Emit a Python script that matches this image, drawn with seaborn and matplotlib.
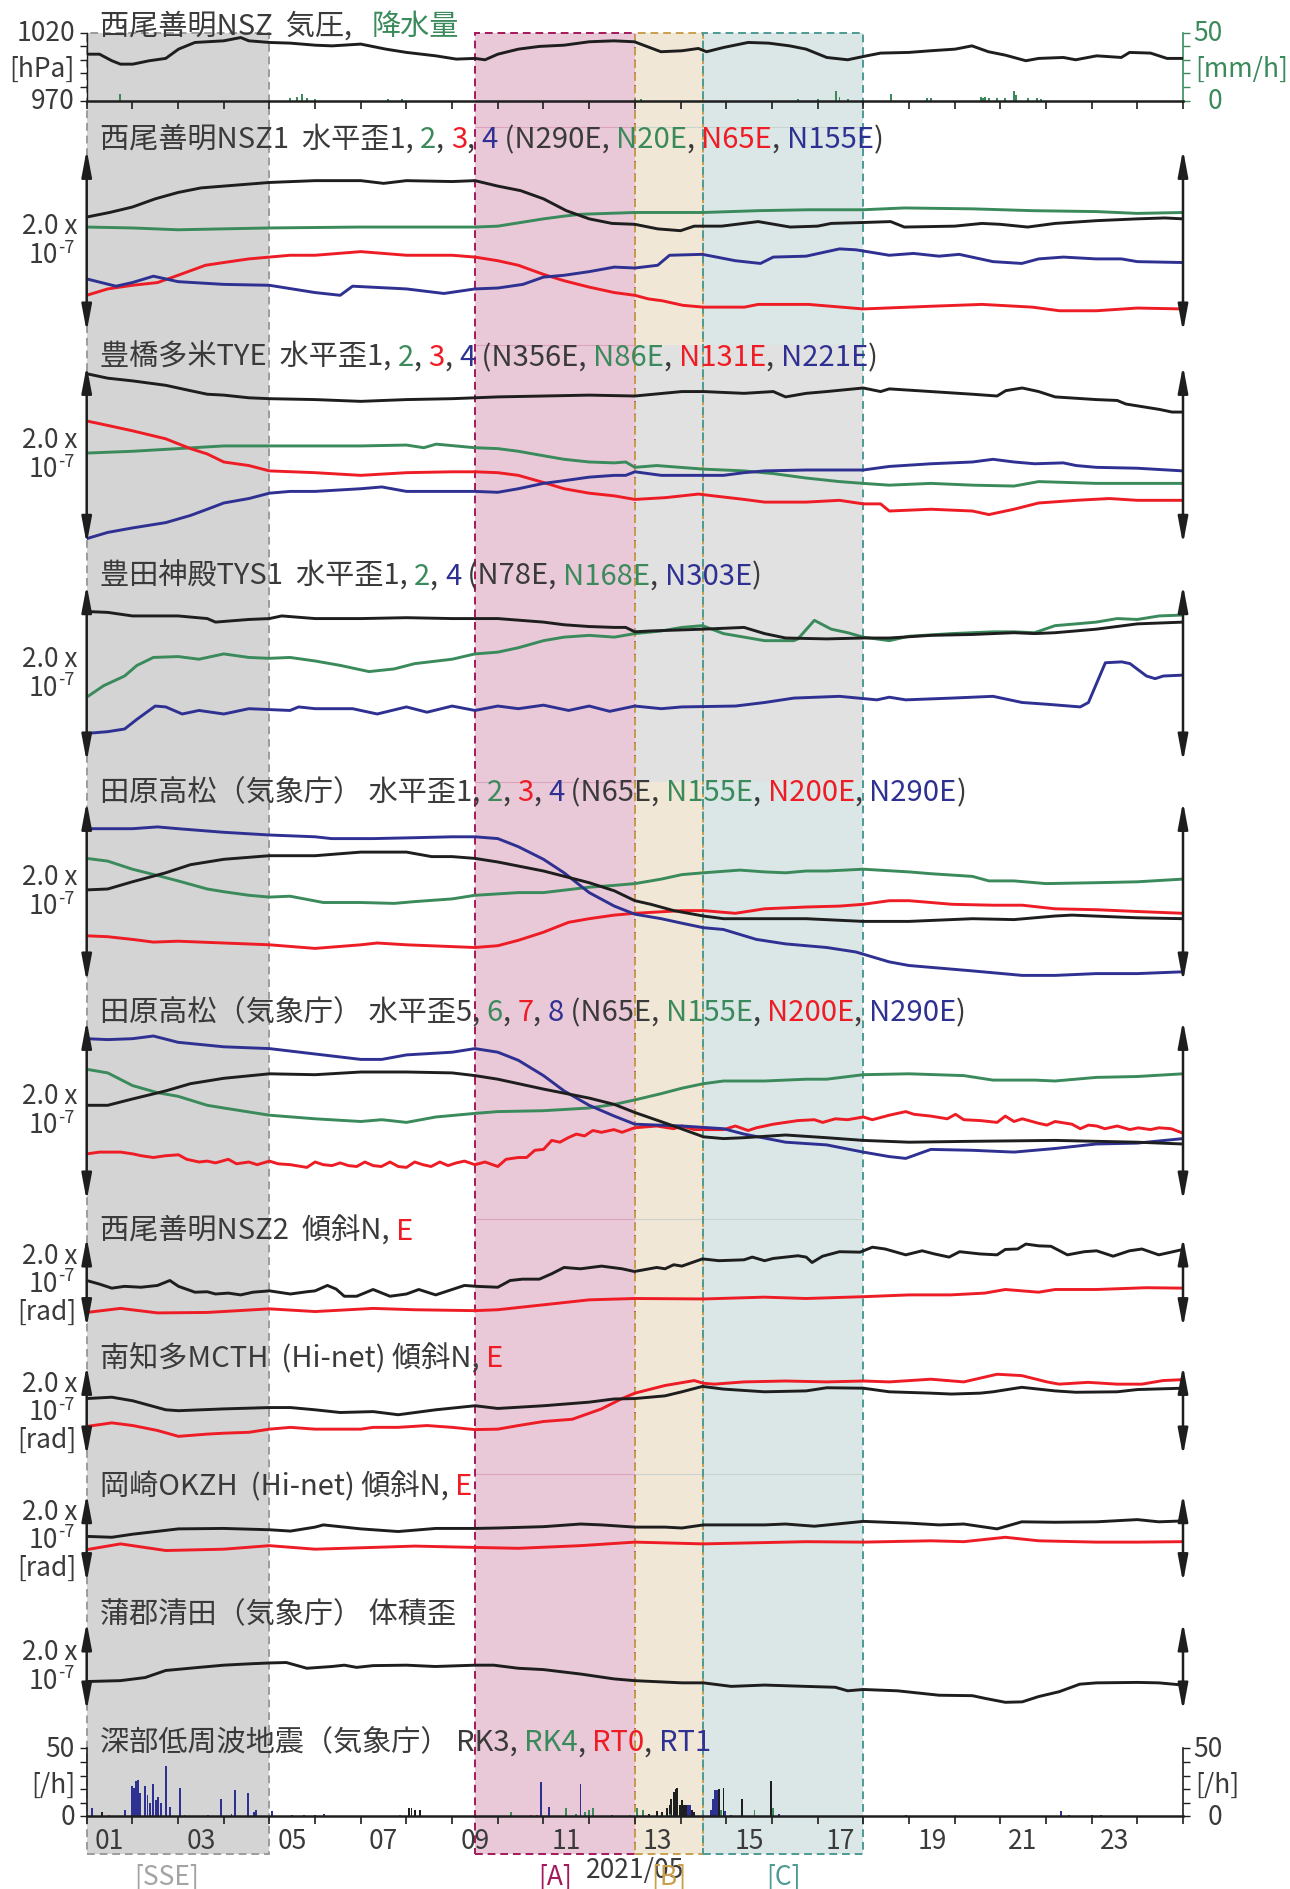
import matplotlib
matplotlib.use("Agg")
import matplotlib.pyplot as plt
import matplotlib.transforms as mtransforms
from matplotlib.patches import Rectangle
from matplotlib.lines import Line2D
import seaborn as sns

sns.set_theme(style="white")
plt.rcParams["font.family"] = ["Noto Sans CJK JP", "DejaVu Sans"]

# ---------------------------------------------------------------- colours
K = "#1e1e1e"
G = "#3a8a5c"
R = "#ee1c25"
B = "#2e3192"
TXT = "#3a3a3a"

# ---------------------------------------------------------------- data
# time axis: days since 2021-05-01 00:00
# Nishio-Zenmyo NSZ air pressure [hPa]
pres_t = [0, 0.28, 0.55, 0.74, 1.01, 1.37, 1.73, 2.01, 2.37, 3.0, 3.37, 3.55, 4.0, 4.46, 5.0,
          5.37, 6.0, 6.55, 7.0, 7.64, 8.09, 8.5, 8.72, 9.0, 9.45, 9.91, 10.45, 11.0, 11.54, 11.99,
          12.57, 13.03, 13.39, 13.57, 13.94, 14.48, 14.93, 15.39, 15.75, 16.2, 16.66, 17.0, 17.38,
          18.0, 18.47, 19.01, 19.38, 19.74, 20.11, 20.56, 20.84, 21.38, 21.65, 22.11, 22.65,
          22.83, 23.29, 23.65, 24.0]
pres_v = [1004.1, 1004.1, 999.3, 996.8, 996.8, 999.3, 1001.0, 1007.8, 1012.7, 1013.9, 1016.3,
          1013.9, 1012.7, 1012.2, 1010.7, 1010.2, 1011.5, 1007.8, 1005.4, 1002.9, 1000.5, 1001.0,
          1000.0, 1004.1, 1007.8, 1009.8, 1010.7, 1013.2, 1013.9, 1013.2,
          1005.9, 1006.6, 1008.3, 1005.9, 1009.0, 1012.7, 1012.2, 1010.2, 1007.8, 1001.7, 1000.0,
          1002.4, 1004.9, 1005.4, 1006.6, 1007.8, 1010.2, 1005.9, 1003.4, 999.3, 1001.0, 1001.7,
          1000.0, 1002.9, 1001.7, 1005.4, 1004.9, 1001.0, 1001.0]
# hourly precipitation [mm/h]
rain_t = [0.72, 4.45, 4.6, 4.72, 4.82, 5.0, 6.6, 6.9, 12.0, 12.13, 15.57, 16.0, 16.4, 16.48,
          16.66, 17.6, 18.4, 18.48, 19.57, 19.62, 19.66, 19.75, 19.93, 20.1, 20.3, 20.35, 20.6,
          20.8, 20.9]
rain_v = [5, 2, 3, 5, 2, 1, 1, 1, 1, 1, 1, 1, 7, 3, 1, 5, 2, 2, 3, 2, 3, 2, 2, 2, 7, 4, 2, 2, 1]

# NSZ1 horizontal strain components 1-4 [x1e-7]
nsz1_t1 = [0, 0.5, 1, 1.5, 2, 2.5, 3, 3.5, 4, 5, 6, 6.5, 7, 8, 8.5, 9, 9.5, 10, 10.5, 11, 11.5,
           12, 12.5, 13, 13.3, 13.9, 14.7, 15.4, 16, 16.3, 17, 17.6, 17.9, 19, 19.6, 20, 20.6,
           21.2, 22.1, 23, 23.6, 24]
nsz1_v1 = [1.26, 1.31, 1.37, 1.46, 1.53, 1.58, 1.60, 1.62, 1.64, 1.66, 1.66, 1.63, 1.66, 1.65,
           1.66, 1.60, 1.55, 1.46, 1.33, 1.24, 1.19, 1.18, 1.13, 1.11, 1.16, 1.16, 1.21, 1.15,
           1.16, 1.19, 1.20, 1.21, 1.15, 1.16, 1.19, 1.18, 1.15, 1.19, 1.22, 1.24, 1.25, 1.24]
nsz1_t2 = [0, 1, 2, 3, 4, 6, 8.5, 9, 9.5, 10, 10.45, 10.8, 12, 13.5, 14.7, 15.8, 17, 17.9, 19.4,
           20.7, 22.1, 23, 24]
nsz1_v2 = [1.15, 1.14, 1.12, 1.13, 1.14, 1.15, 1.15, 1.16, 1.20, 1.24, 1.27, 1.29, 1.31, 1.31,
           1.33, 1.34, 1.34, 1.36, 1.35, 1.33, 1.32, 1.30, 1.31]
nsz1_t3 = [0, 0.46, 1, 1.55, 2, 2.6, 3, 3.55, 4, 4.45, 5, 6, 7, 8, 8.5, 9, 9.45, 10, 10.45, 11,
           11.55, 12, 12.3, 12.6, 13.05, 13.5, 14.4, 14.7, 15.8, 17, 18.5, 19.6, 20.7, 21.3,
           22.1, 23, 24]
nsz1_v3 = [0.40, 0.47, 0.51, 0.54, 0.62, 0.73, 0.76, 0.80, 0.82, 0.84, 0.84, 0.88, 0.84, 0.84,
           0.82, 0.78, 0.73, 0.63, 0.56, 0.49, 0.43, 0.40, 0.36, 0.34, 0.29, 0.27, 0.27, 0.30,
           0.30, 0.25, 0.28, 0.30, 0.27, 0.23, 0.23, 0.26, 0.25]
nsz1_t4 = [0, 0.64, 1, 1.46, 1.73, 2, 3, 4, 5, 5.55, 5.82, 7, 7.82, 8.5, 9, 9.55, 10, 10.45, 11,
           11.55, 12, 12.5, 12.76, 13.48, 14.2, 14.75, 15.03, 15.75, 16.48, 16.84, 17.57, 18.1,
           18.66, 19.1, 19.84, 20.47, 20.84, 21.38, 22.1, 22.65, 23, 24]
nsz1_v4 = [0.58, 0.50, 0.54, 0.61, 0.58, 0.55, 0.52, 0.51, 0.43, 0.40, 0.50, 0.47, 0.42, 0.47,
           0.48, 0.52, 0.60, 0.62, 0.66, 0.71, 0.70, 0.73, 0.84, 0.85, 0.78, 0.75, 0.82, 0.83,
           0.91, 0.90, 0.84, 0.86, 0.83, 0.85, 0.77, 0.75, 0.80, 0.82, 0.80, 0.80, 0.77, 0.76]

# TYE horizontal strain components 1-4
tye_t1 = [0, 0.46, 1, 1.73, 2.27, 2.64, 3, 3.55, 4, 5, 6, 7, 8, 8.5, 9, 10, 11, 12, 13.03, 13.5,
          14.39, 15.03, 15.3, 15.75, 16.2, 17, 17.38, 17.57, 18.48, 19.39, 19.93, 20.12, 20.48,
          20.84, 21.2, 22.1, 22.56, 22.75, 23.48, 23.76, 24]
tye_v1 = [1.91, 1.86, 1.83, 1.78, 1.72, 1.68, 1.67, 1.64, 1.63, 1.62, 1.60, 1.62, 1.63, 1.64,
          1.65, 1.66, 1.67, 1.66, 1.71, 1.71, 1.69, 1.71, 1.65, 1.69, 1.71, 1.75, 1.71, 1.74,
          1.71, 1.68, 1.66, 1.72, 1.75, 1.71, 1.65, 1.62, 1.61, 1.57, 1.51, 1.48, 1.48]
tye_t2 = [0, 1, 2, 3, 4, 5, 6, 7, 7.38, 7.65, 8.5, 9, 9.45, 10, 10.45, 11, 11.55, 11.8, 12,
          12.48, 13.5, 14.39, 15.03, 15.75, 16.48, 17, 17.57, 18.48, 19.39, 20.3, 20.84, 22.1,
          23, 24]
tye_v2 = [1.02, 1.04, 1.07, 1.10, 1.10, 1.10, 1.10, 1.11, 1.08, 1.12, 1.08, 1.07, 1.04, 0.99,
          0.95, 0.92, 0.91, 0.92, 0.86, 0.88, 0.84, 0.82, 0.79, 0.74, 0.70, 0.68, 0.66, 0.68,
          0.66, 0.65, 0.70, 0.68, 0.68, 0.68]
tye_t3 = [0, 0.46, 1, 1.73, 2.27, 2.64, 3, 3.55, 4, 5, 6, 7, 8, 8.5, 9, 9.45, 10, 10.45, 11,
          11.55, 12, 12.67, 13.39, 14.39, 14.84, 15.75, 16.48, 17, 17.38, 17.57, 18.48, 19.39,
          19.75, 20.3, 20.84, 21.66, 22.39, 23, 24]
tye_v3 = [1.38, 1.33, 1.27, 1.18, 1.07, 1.01, 0.92, 0.88, 0.82, 0.80, 0.77, 0.80, 0.81, 0.81,
          0.80, 0.77, 0.69, 0.62, 0.57, 0.54, 0.50, 0.52, 0.56, 0.50, 0.47, 0.47, 0.49, 0.45,
          0.45, 0.37, 0.39, 0.37, 0.33, 0.39, 0.46, 0.49, 0.51, 0.49, 0.49]
tye_t4 = [0, 0.46, 1, 1.73, 2.27, 2.64, 3, 3.55, 4, 4.45, 5, 6, 6.46, 7, 8, 8.5, 9, 9.45, 10,
          10.45, 11, 11.55, 11.8, 12, 12.58, 13.03, 13.94, 14.39, 14.84, 15.75, 17, 17.57, 18.48,
          19.39, 19.84, 20.3, 20.75, 21.38, 21.66, 22.1, 23, 24]
tye_v4 = [0.06, 0.13, 0.18, 0.24, 0.32, 0.39, 0.46, 0.51, 0.57, 0.59, 0.59, 0.62, 0.64, 0.59,
          0.59, 0.59, 0.58, 0.62, 0.68, 0.71, 0.75, 0.77, 0.77, 0.81, 0.77, 0.77, 0.77, 0.80,
          0.82, 0.83, 0.83, 0.87, 0.90, 0.92, 0.95, 0.92, 0.90, 0.91, 0.88, 0.86, 0.85, 0.82]

# TYS1 horizontal strain components 1, 2, 4
tys_t1 = [0, 0.46, 1, 2, 2.64, 2.82, 3.55, 4, 4.27, 5, 6, 7, 8, 8.5, 9, 10, 10.45, 11, 11.55,
          11.8, 12, 12.35, 13.5, 14.39, 14.84, 15.3, 16.2, 17, 17.57, 18.48, 19.39, 20.3, 20.75,
          21.2, 22.1, 23, 24]
tys_v1 = [1.70, 1.69, 1.65, 1.65, 1.62, 1.58, 1.61, 1.62, 1.65, 1.62, 1.62, 1.63, 1.62, 1.62,
          1.62, 1.58, 1.55, 1.53, 1.52, 1.52, 1.47, 1.48, 1.50, 1.52, 1.45, 1.40, 1.39, 1.40,
          1.40, 1.43, 1.44, 1.46, 1.45, 1.46, 1.50, 1.56, 1.58]
tys_t2 = [0, 0.37, 0.83, 1.1, 1.46, 2, 2.46, 3, 3.55, 4, 4.45, 5, 5.55, 6.18, 6.73, 7.18, 8, 8.5,
          9, 9.45, 10, 10.45, 11, 11.55, 12, 12.58, 13.03, 13.48, 13.94, 14.39, 14.84, 15.48,
          15.57, 15.93, 16.3, 16.66, 17, 17.57, 18, 18.94, 19.84, 20.3, 20.75, 21.2, 21.66,
          22.1, 22.56, 23, 23.48, 24]
tys_v2 = [0.73, 0.86, 0.97, 1.09, 1.18, 1.19, 1.16, 1.22, 1.18, 1.17, 1.18, 1.14, 1.09, 1.02,
          1.05, 1.11, 1.16, 1.22, 1.24, 1.29, 1.37, 1.41, 1.43, 1.41, 1.45, 1.48, 1.52, 1.54,
          1.45, 1.41, 1.37, 1.37, 1.39, 1.60, 1.50, 1.46, 1.41, 1.37, 1.42, 1.45, 1.47, 1.47,
          1.46, 1.54, 1.56, 1.58, 1.62, 1.61, 1.65, 1.66]
tys_t4 = [0, 0.46, 0.83, 1.1, 1.5, 1.73, 2.09, 2.46, 3, 3.55, 4, 4.45, 4.64, 5, 5.82, 6.36, 7,
          7.45, 8, 8.5, 9, 9.45, 10, 10.55, 11, 11.45, 12, 12.58, 13.03, 14.2, 14.84, 15.48,
          16.48, 17.3, 17.57, 17.93, 18.94, 19.84, 20.48, 21.03, 21.75, 21.93, 22.3, 22.66,
          22.84, 23.2, 23.39, 23.57, 24]
tys_v4 = [0.32, 0.34, 0.37, 0.48, 0.63, 0.62, 0.54, 0.58, 0.54, 0.60, 0.59, 0.58, 0.62, 0.60,
          0.60, 0.54, 0.62, 0.56, 0.63, 0.58, 0.63, 0.60, 0.64, 0.58, 0.63, 0.57, 0.63, 0.60,
          0.62, 0.63, 0.67, 0.72, 0.74, 0.70, 0.73, 0.70, 0.72, 0.74, 0.67, 0.65, 0.62, 0.67,
          1.12, 1.13, 1.11, 0.97, 0.94, 0.97, 0.98]

# Tahara-Takamatsu (JMA) horizontal strain components 1-4
tha_t1 = [0, 0.46, 1, 1.73, 2.27, 3, 4, 5, 6, 6.55, 7, 7.55, 8, 8.5, 9, 10, 11, 11.55, 12, 12.35,
          12.85, 13.5, 13.94, 14.84, 15.75, 17, 18, 19.39, 20.3, 21.2, 21.57, 23, 24]
tha_v1 = [1.02, 1.03, 1.11, 1.21, 1.30, 1.36, 1.40, 1.40, 1.44, 1.44, 1.44, 1.39, 1.39, 1.37,
          1.33, 1.23, 1.10, 1.01, 0.90, 0.86, 0.79, 0.73, 0.70, 0.70, 0.70, 0.67, 0.67, 0.70,
          0.69, 0.73, 0.74, 0.71, 0.70]
tha_t2 = [0, 0.46, 1, 1.55, 2, 2.64, 3, 3.55, 4, 4.45, 5.18, 6, 6.73, 7.18, 8, 8.5, 9.45, 10, 11,
          11.55, 12, 12.58, 13.03, 13.5, 14.3, 14.84, 15.3, 15.75, 16.2, 17, 18, 18.48, 19.39,
          19.75, 20.3, 21, 22.1, 23, 24]
tha_v2 = [1.37, 1.34, 1.25, 1.18, 1.12, 1.03, 1.00, 0.96, 0.94, 0.95, 0.88, 0.88, 0.87, 0.89,
          0.92, 0.96, 0.99, 0.99, 1.05, 1.07, 1.09, 1.14, 1.19, 1.21, 1.24, 1.22, 1.21, 1.23,
          1.23, 1.25, 1.22, 1.20, 1.17, 1.12, 1.12, 1.09, 1.10, 1.11, 1.14]
tha_t3 = [0, 0.46, 1, 1.46, 2, 3, 4, 5, 6, 6.36, 7, 8, 8.5, 9, 9.45, 10, 10.55, 11, 11.55, 12,
          13.03, 13.5, 14.2, 14.84, 15.75, 16.48, 17, 17.57, 18, 18.48, 18.94, 19.84, 20.48,
          21.2, 22.1, 23, 24]
tha_v3 = [0.51, 0.50, 0.47, 0.44, 0.45, 0.43, 0.41, 0.37, 0.41, 0.43, 0.41, 0.39, 0.38, 0.40,
          0.46, 0.55, 0.66, 0.70, 0.74, 0.76, 0.79, 0.79, 0.76, 0.81, 0.83, 0.84, 0.86, 0.90,
          0.90, 0.88, 0.86, 0.85, 0.85, 0.81, 0.80, 0.78, 0.76]
tha_t4 = [0, 1, 1.55, 2, 3, 4, 5, 5.36, 6.27, 7.18, 8, 8.5, 9, 9.45, 10, 10.45, 11, 11.55, 12,
          12.58, 13.03, 13.5, 13.94, 14.66, 15.3, 16.2, 16.84, 17.57, 18, 19.39, 20.48, 21.2,
          22.1, 23, 24]
tha_v4 = [1.70, 1.70, 1.72, 1.70, 1.66, 1.63, 1.61, 1.59, 1.59, 1.60, 1.61, 1.61, 1.59, 1.50,
          1.36, 1.21, 0.99, 0.84, 0.75, 0.70, 0.65, 0.60, 0.58, 0.47, 0.42, 0.38, 0.33, 0.22,
          0.18, 0.12, 0.07, 0.07, 0.09, 0.09, 0.11]

# Tahara-Takamatsu (JMA) horizontal strain components 5-8
thb_t5 = [0, 0.46, 1, 1.73, 2.27, 3, 4, 5, 6, 7, 8, 8.5, 9, 10, 11, 11.55, 12, 12.85, 13.5,
          13.94, 14.39, 15.3, 16.2, 17, 18, 19.39, 21.2, 22.1, 23, 24]
thb_v5 = [1.06, 1.06, 1.13, 1.22, 1.30, 1.36, 1.41, 1.40, 1.43, 1.43, 1.42, 1.39, 1.35, 1.24,
          1.14, 1.07, 0.98, 0.83, 0.71, 0.69, 0.70, 0.73, 0.70, 0.67, 0.65, 0.66, 0.67, 0.66,
          0.65, 0.63]
thb_t6 = [0, 0.46, 1, 1.55, 2, 2.64, 3, 4, 5, 6, 6.46, 7, 7.64, 8.5, 9, 10, 11, 11.55, 12, 12.58,
          13.03, 13.5, 13.94, 14.84, 15.75, 16.2, 17, 18, 19.2, 19.84, 20.75, 21.2, 22.1, 23, 24]
thb_v6 = [1.46, 1.42, 1.28, 1.20, 1.16, 1.06, 1.03, 0.95, 0.91, 0.88, 0.90, 0.87, 0.93, 0.97,
          0.99, 1.00, 1.03, 1.07, 1.12, 1.19, 1.25, 1.30, 1.33, 1.33, 1.35, 1.35, 1.40, 1.41,
          1.39, 1.34, 1.34, 1.33, 1.37, 1.38, 1.41]
thb_t7 = [0, 0.28, 0.74, 1.01, 1.19, 1.46, 1.73, 2.01, 2.19, 2.46, 2.64, 2.82, 3.10, 3.28, 3.55,
          3.73, 4.00, 4.19, 4.46, 4.82, 5.00, 5.18, 5.37, 5.55, 5.73, 5.91, 6.09, 6.27, 6.45,
          6.64, 6.82, 7.00, 7.18, 7.36, 7.54, 7.73, 7.91, 8.09, 8.27, 8.50, 8.72, 9.00, 9.18,
          9.45, 9.63, 9.81, 10.0, 10.18, 10.36, 10.54, 10.72, 10.90, 11.08, 11.27, 11.54, 11.72,
          11.99, 12.48, 12.85, 13.03, 13.3, 13.5, 13.94, 14.2, 14.48, 14.66, 15.03, 15.3, 15.57,
          15.93, 16.11, 16.39, 16.66, 17.0, 17.2, 17.57, 17.93, 18.11, 18.48, 18.84, 19.02,
          19.2, 19.57, 19.93, 20.11, 20.3, 20.48, 20.84, 21.02, 21.2, 21.57, 21.75, 21.93,
          22.11, 22.29, 22.56, 22.84, 23.02, 23.29, 23.47, 23.74, 24.0]
thb_v7 = [0.52, 0.54, 0.54, 0.52, 0.50, 0.48, 0.50, 0.51, 0.46, 0.43, 0.44, 0.42, 0.46, 0.41,
          0.43, 0.40, 0.44, 0.41, 0.40, 0.37, 0.43, 0.40, 0.39, 0.42, 0.39, 0.38, 0.43, 0.39,
          0.38, 0.43, 0.38, 0.37, 0.43, 0.40, 0.38, 0.43, 0.39, 0.42, 0.44, 0.40, 0.43, 0.38,
          0.46, 0.48, 0.48, 0.56, 0.57, 0.67, 0.65, 0.70, 0.74, 0.72, 0.78, 0.76, 0.79, 0.76,
          0.81, 0.83, 0.80, 0.83, 0.79, 0.79, 0.79, 0.83, 0.78, 0.81, 0.85, 0.87, 0.89, 0.90,
          0.87, 0.91, 0.90, 0.93, 0.90, 0.95, 0.99, 0.96, 0.94, 0.91, 0.96, 0.90, 0.89, 0.87,
          0.94, 0.88, 0.91, 0.86, 0.84, 0.88, 0.85, 0.80, 0.84, 0.83, 0.80, 0.83, 0.79, 0.81,
          0.79, 0.81, 0.80, 0.75]
thb_t8 = [0, 0.46, 1, 1.46, 2, 3, 4, 5, 6, 6.46, 7, 8, 8.5, 9, 9.45, 10, 10.45, 11, 11.55, 12,
          13.03, 13.94, 14.39, 15.3, 16.2, 17, 17.57, 17.93, 18.48, 19.39, 20.3, 21.2, 22.1, 23, 24]
thb_v8 = [1.80, 1.79, 1.80, 1.83, 1.76, 1.71, 1.69, 1.63, 1.57, 1.57, 1.62, 1.65, 1.69, 1.65,
          1.56, 1.39, 1.22, 1.06, 0.94, 0.85, 0.83, 0.80, 0.74, 0.65, 0.62, 0.54, 0.49, 0.47,
          0.57, 0.56, 0.54, 0.58, 0.63, 0.64, 0.69]

# NSZ2 tilt N, E [x1e-7 rad]
nsz2_tn = [0, 0.28, 0.55, 0.83, 1.19, 1.55, 1.82, 2.01, 2.37, 2.64, 2.82, 3.10, 3.37, 3.64, 4.00,
           4.46, 4.82, 5.00, 5.27, 5.46, 5.64, 5.91, 6.27, 6.64, 7.00, 7.27, 7.64, 7.91, 8.27,
           8.54, 9.00, 9.27, 9.54, 9.91, 10.18, 10.45, 10.81, 11.27, 11.72, 11.99, 12.48, 12.66,
           12.85, 13.03, 13.48, 13.84, 14.39, 14.57, 14.84, 15.03, 15.3, 15.57, 15.75, 15.88,
           16.11, 16.48, 16.93, 17.2, 17.48, 17.93, 18.29, 18.56, 18.88, 19.11, 19.56, 19.93,
           20.11, 20.38, 20.56, 20.84, 21.11, 21.47, 21.84, 22.11, 22.47, 22.83, 23.1, 23.47,
           23.74, 24.0]
nsz2_vn = [1.04, 0.96, 0.87, 0.91, 0.89, 0.93, 1.04, 0.91, 0.78, 0.79, 0.74, 0.76, 0.72, 0.78,
           0.81, 0.74, 0.79, 0.81, 0.93, 0.85, 0.69, 0.69, 0.84, 0.69, 0.74, 0.84, 0.72, 0.81,
           0.93, 0.91, 0.89, 1.04, 1.07, 1.07, 1.19, 1.33, 1.30, 1.36, 1.30, 1.24, 1.33, 1.30,
           1.39, 1.36, 1.52, 1.48, 1.50, 1.56, 1.48, 1.53, 1.56, 1.59, 1.56, 1.44, 1.58, 1.68,
           1.67, 1.78, 1.74, 1.61, 1.70, 1.63, 1.56, 1.68, 1.63, 1.61, 1.73, 1.74, 1.85, 1.81,
           1.80, 1.61, 1.68, 1.70, 1.58, 1.70, 1.74, 1.61, 1.67, 1.73]
nsz2_te = [0, 0.74, 1.55, 2.64, 4.0, 5.0, 6.27, 7.18, 8.5, 9.0, 10.0, 11.0, 12.0, 13.5, 14.84,
           15.75, 17.0, 18.0, 18.91, 19.66, 20.11, 20.84, 21.2, 22.11, 23.2, 24.0]
nsz2_ve = [0.33, 0.42, 0.32, 0.33, 0.41, 0.35, 0.42, 0.39, 0.37, 0.39, 0.50, 0.61, 0.64, 0.63,
           0.67, 0.64, 0.68, 0.72, 0.72, 0.76, 0.84, 0.78, 0.84, 0.84, 0.88, 0.87]

# MCTH (Hi-net) tilt N, E
mcth_tn = [0, 0.55, 1.01, 1.73, 2.01, 3.0, 4.0, 4.46, 5.0, 5.55, 6.27, 6.82, 7.64, 8.5, 9.0,
           10.0, 11.0, 11.54, 12.0, 12.66, 13.03, 13.48, 13.94, 14.84, 15.75, 16.2, 17.0, 17.57,
           18.48, 18.93, 19.56, 19.84, 20.47, 21.2, 21.65, 22.56, 23.0, 24.0]
mcth_vn = [1.27, 1.30, 1.22, 1.02, 1.00, 1.04, 1.07, 1.07, 1.02, 0.96, 0.98, 0.91, 1.02, 1.11,
           1.05, 1.11, 1.19, 1.26, 1.27, 1.33, 1.42, 1.54, 1.48, 1.42, 1.44, 1.51, 1.50, 1.42,
           1.39, 1.37, 1.39, 1.42, 1.52, 1.44, 1.41, 1.42, 1.47, 1.50]
mcth_te = [0, 0.55, 1.01, 1.55, 2.01, 2.64, 3.0, 3.55, 4.0, 4.46, 5.0, 6.0, 6.27, 6.82, 7.45,
           8.0, 8.5, 9.0, 9.45, 10.0, 10.63, 11.27, 11.72, 12.0, 12.66, 13.3, 13.5, 13.74, 14.39,
           15.3, 16.2, 17.0, 17.57, 18.48, 19.2, 19.93, 20.47, 21.02, 21.29, 21.92, 22.56, 23.1,
           23.56, 24.0]
mcth_ve = [0.65, 0.73, 0.67, 0.56, 0.43, 0.48, 0.50, 0.52, 0.59, 0.63, 0.59, 0.59, 0.63, 0.63,
           0.67, 0.63, 0.58, 0.59, 0.67, 0.76, 0.81, 1.04, 1.27, 1.39, 1.56, 1.67, 1.61, 1.59,
           1.64, 1.66, 1.64, 1.66, 1.64, 1.70, 1.64, 1.81, 1.78, 1.64, 1.59, 1.63, 1.59, 1.59,
           1.67, 1.69]

# OKZH (Hi-net) tilt N, E
okzh_tn = [0, 0.55, 1.01, 2.01, 3.0, 4.0, 4.46, 5.0, 5.18, 5.64, 6.0, 6.82, 7.64, 8.5, 9.0,
           10.0, 10.81, 11.27, 12.0, 12.66, 13.03, 13.5, 14.84, 15.3, 15.93, 17.0, 18.0, 18.66,
           19.2, 19.93, 20.47, 21.2, 22.11, 23.0, 23.47, 24.0]
okzh_vn = [1.04, 1.02, 1.09, 1.21, 1.22, 1.19, 1.16, 1.25, 1.30, 1.25, 1.21, 1.15, 1.22, 1.22,
           1.23, 1.26, 1.32, 1.30, 1.25, 1.25, 1.23, 1.30, 1.30, 1.32, 1.27, 1.38, 1.34, 1.30,
           1.32, 1.21, 1.37, 1.36, 1.37, 1.42, 1.37, 1.39]
okzh_te = [0, 0.74, 1.73, 3.0, 4.0, 5.0, 6.27, 7.18, 8.5, 9.45, 10.81, 12.0, 13.5, 15.75, 17.0,
           18.48, 19.2, 20.11, 20.84, 22.11, 23.0, 24.0]
okzh_ve = [0.74, 0.87, 0.72, 0.75, 0.83, 0.75, 0.79, 0.82, 0.79, 0.77, 0.83, 0.91, 0.87, 0.92,
           0.91, 0.94, 0.92, 1.02, 0.94, 0.91, 0.91, 0.92]

# Gamagori-Kiyota (JMA) volumetric strain
gam_t = [0, 0.74, 1.28, 1.73, 2.46, 3.0, 3.55, 4.0, 4.37, 4.82, 5.37, 5.64, 5.91, 6.27, 7.0,
         7.63, 8.5, 8.91, 9.45, 10.0, 10.81, 11.54, 11.99, 13.03, 13.5, 14.11, 14.84, 15.75,
         16.39, 16.66, 17.0, 17.75, 18.66, 19.39, 19.66, 20.11, 20.48, 20.84, 21.29, 21.74,
         22.11, 23.0, 23.47, 24.0]
gam_v = [0.66, 0.68, 0.75, 0.91, 0.98, 1.03, 1.06, 1.08, 1.09, 0.96, 1.00, 1.03, 0.98, 1.02,
         1.03, 1.00, 1.03, 1.03, 0.96, 0.93, 0.83, 0.72, 0.68, 0.63, 0.63, 0.55, 0.58, 0.55,
         0.53, 0.45, 0.48, 0.45, 0.35, 0.34, 0.28, 0.19, 0.20, 0.32, 0.43, 0.60, 0.63, 0.64,
         0.63, 0.58]

# deep low-frequency tremor counts per hour (JMA), by group
rk3_t = [0.33, 7.05, 7.11, 7.18, 7.29, 12.3, 12.48, 12.6, 12.71, 12.76, 12.8, 12.85, 12.9,
         12.93, 12.98, 13.03, 13.07, 13.12, 13.25, 13.3, 13.84, 13.94, 14.34, 14.98]
rk3_n = [3, 6, 6, 5, 5, 2, 4, 3, 6, 8, 13, 18, 20, 21, 8, 12, 8, 8, 5, 3, 20, 21, 13, 26]
rk4_t = [6.86, 9.29, 10.49, 10.72, 10.9, 10.99, 11.08, 11.9, 12.04, 12.17, 12.76, 13.89,
         14.62, 15.02, 19.02]
rk4_n = [1, 3, 6, 2, 3, 5, 6, 1, 6, 5, 2, 5, 5, 6, 1]
rt0_t = [0.48, 2.14, 9.72, 9.86]
rt0_n = [1, 1, 1, 1]
rt1_t = [0.12, 0.83, 0.99, 1.03, 1.08, 1.13, 1.17, 1.28, 1.33, 1.39, 1.46, 1.51, 1.57, 1.62,
         1.74, 1.82, 2.05, 2.66, 2.94, 3.17, 3.25, 3.54, 3.66, 3.71, 4.05, 4.5, 4.75, 5.0, 5.2,
         9.95, 10.13, 10.81, 11.5, 13.16, 13.21, 13.66, 13.71, 13.75, 13.79, 13.98, 14.1,
         15.15, 17.93, 21.33, 21.5, 22.0, 22.2]
rt1_n = [6, 5, 22, 21, 26, 27, 17, 22, 16, 10, 24, 12, 14, 10, 37, 7, 21, 1, 13, 2, 19, 17, 3,
         5, 4, 1, 1, 1, 2, 25, 7, 24, 1, 8, 8, 5, 13, 19, 19, 4, 1, 2, 1, 4, 1, 1, 1]

# highlighted periods [start day, end day]
periods = {"SSE": (0, 4), "A": (8.5, 12), "B": (12, 13.5), "C": (13.5, 17)}
period_fill = {"SSE": "#d4d4d4", "A": "#e9c9d7", "B": "#f1e7d7", "C": "#dbe7e7"}
period_edge = {"SSE": "#9c9c9c", "A": "#a3195b", "B": "#c9a04e", "C": "#4e9a94"}
day_labels = ["01", "03", "05", "07", "09", "11", "13", "15", "17", "19", "21", "23"]

# ---------------------------------------------------------------- layout
W, H = 1290, 1890
X0, X1 = 86.7, 1183.0
fig = plt.figure(figsize=(W / 100, H / 100), dpi=100)
renderer = fig.canvas.get_renderer()
FS = 21
NFS = 19


def add_ax(top, bottom):
    ax = fig.add_axes([X0 / W, 1 - bottom / H, (X1 - X0) / W, (bottom - top) / H])
    ax.set_facecolor("none")
    ax.set_xlim(0, 24)
    return ax


def ftext(x, y, s, **kw):
    kw.setdefault("color", TXT)
    kw.setdefault("fontsize", FS)
    kw.setdefault("va", "center")
    return fig.text(x / W, 1 - y / H, s, **kw)


def rich(y, parts, x=100.0):
    for s, c in parts:
        t = ftext(x, y, s, color=c, ha="left")
        x += t.get_window_extent(renderer).width


def scale_label(cy, rad=False):
    if rad:
        ys = (cy - 27, cy + 1, cy + 29)
    else:
        ys = (cy - 15, cy + 14)
    ftext(77, ys[0], "2.0 x", ha="right", fontsize=NFS)
    ftext(58, ys[1], "10", ha="right", fontsize=NFS)
    ftext(58.5, ys[1] - 8, "-7", ha="left", fontsize=13)
    if rad:
        ftext(77, ys[2], "[rad]", ha="right", fontsize=NFS)


def scale_arrows(ax):
    for xf in (0.0, 1.0):
        ax.annotate("", xy=(xf, 1.0), xytext=(xf, 0.0), xycoords="axes fraction",
                    textcoords="axes fraction", annotation_clip=False,
                    arrowprops=dict(arrowstyle="<|-|>,head_length=0.8,head_width=0.15",
                                    mutation_scale=20, color=K, lw=1.8,
                                    shrinkA=0, shrinkB=0))


def trace_panel(top, bottom, series):
    ax = add_ax(top, bottom)
    for t, v, c in series:
        sns.lineplot(x=t, y=v, color=c, lw=2.1, ax=ax, estimator=None, legend=False)
    ax.set_xlim(0, 24)
    ax.set_ylim(0, 2)
    ax.axis("off")
    scale_arrows(ax)
    return ax


# ---------------------------------------------------------------- pressure / rain
ax_p = add_ax(33.5, 101.7)
ax_r = ax_p.twinx()
ax_r.set_facecolor("none")
ax_r.bar(rain_t, rain_v, width=1 / 24, color=G, lw=0)
ax_r.set_ylim(0, 50)
sns.lineplot(x=pres_t, y=pres_v, color=K, lw=2.1, ax=ax_p, estimator=None, legend=False)
ax_p.set_zorder(ax_r.get_zorder() + 1)
ax_p.set_ylim(970, 1020)
ax_p.set_xlim(0, 24)
ax_p.set_xticks(range(25))
ax_p.set_xticklabels([])
ax_p.set_yticks([970, 980, 990, 1000, 1010, 1020])
ax_p.set_yticklabels([])
ax_p.set_xlabel("")
ax_p.set_ylabel("")
ax_p.tick_params(axis="x", bottom=True, direction="out", length=6, width=1.2, color=K)
ax_p.tick_params(axis="y", left=True, direction="out", length=5, width=1.0, color=K)
for sp in ("top", "right"):
    ax_p.spines[sp].set_visible(False)
ax_p.spines["left"].set_color(K)
ax_p.spines["left"].set_linewidth(1.0)
ax_p.spines["bottom"].set_color(K)
ax_p.spines["bottom"].set_linewidth(1.8)
for sp in ("top", "left", "bottom"):
    ax_r.spines[sp].set_visible(False)
ax_r.spines["right"].set_color(G)
ax_r.spines["right"].set_linewidth(1.2)
ax_r.set_yticks([0, 10, 20, 30, 40, 50])
ax_r.set_yticklabels([])
ax_r.tick_params(axis="y", right=True, direction="out", length=5, width=1.0, color=G)
ax_r.grid(False)
ax_p.grid(False)

ftext(75, 33.5, "1020", ha="right", fontsize=NFS)
ftext(75, 69, "[hPa]", ha="right", fontsize=NFS)
ftext(75, 101.7, "970", ha="right", fontsize=NFS)
ftext(1222, 33.5, "50", ha="right", fontsize=NFS, color=G)
ftext(1195, 69, "[mm/h]", ha="left", fontsize=NFS, color=G)
ftext(1222, 101.7, "0", ha="right", fontsize=NFS, color=G)
rich(26.7, [("西尾善明NSZ  気圧,   ", TXT), ("降水量", G)])

# ---------------------------------------------------------------- strain panels
trace_panel(150.7, 332.7, [(nsz1_t2, nsz1_v2, G), (nsz1_t3, nsz1_v3, R),
                           (nsz1_t4, nsz1_v4, B), (nsz1_t1, nsz1_v1, K)])
scale_label((150.7 + 332.7) / 2)
rich(140, [("西尾善明NSZ1  水平歪1, ", TXT), ("2", G), (", ", TXT), ("3", R), (", ", TXT),
           ("4", B), (" (N290E, ", TXT), ("N20E", G), (", ", TXT), ("N65E", R), (", ", TXT),
           ("N155E", B), (")", TXT)])

trace_panel(366.7, 545.0, [(tye_t2, tye_v2, G), (tye_t3, tye_v3, R),
                           (tye_t4, tye_v4, B), (tye_t1, tye_v1, K)])
scale_label((366.7 + 545.0) / 2)
rich(358, [("豊橋多米TYE  水平歪1, ", TXT), ("2", G), (", ", TXT), ("3", R), (", ", TXT),
           ("4", B), (" (N356E, ", TXT), ("N86E", G), (", ", TXT), ("N131E", R), (", ", TXT),
           ("N221E", B), (")", TXT)])

trace_panel(586.0, 762.7, [(tys_t2, tys_v2, G), (tys_t4, tys_v4, B), (tys_t1, tys_v1, K)])
scale_label((586.0 + 762.7) / 2)
rich(576.7, [("豊田神殿TYS1  水平歪1, ", TXT), ("2", G), (", ", TXT), ("4", B),
             (" (N78E, ", TXT), ("N168E", G), (", ", TXT), ("N303E", B), (")", TXT)])

trace_panel(802.7, 982.7, [(tha_t2, tha_v2, G), (tha_t3, tha_v3, R),
                           (tha_t4, tha_v4, B), (tha_t1, tha_v1, K)])
scale_label((802.7 + 982.7) / 2)
rich(793, [("田原高松（気象庁） 水平歪1, ", TXT), ("2", G), (", ", TXT), ("3", R), (", ", TXT),
           ("4", B), (" (N65E, ", TXT), ("N155E", G), (", ", TXT), ("N200E", R), (", ", TXT),
           ("N290E", B), (")", TXT)])

trace_panel(1021.7, 1201.7, [(thb_t6, thb_v6, G), (thb_t7, thb_v7, R),
                             (thb_t8, thb_v8, B), (thb_t5, thb_v5, K)])
scale_label((1021.7 + 1201.7) / 2)
rich(1013, [("田原高松（気象庁） 水平歪5, ", TXT), ("6", G), (", ", TXT), ("7", R), (", ", TXT),
            ("8", B), (" (N65E, ", TXT), ("N155E", G), (", ", TXT), ("N200E", R), (", ", TXT),
            ("N290E", B), (")", TXT)])

# ---------------------------------------------------------------- tilt panels
trace_panel(1238.3, 1328.3, [(nsz2_te, nsz2_ve, R), (nsz2_tn, nsz2_vn, K)])
scale_label((1238.3 + 1328.3) / 2, rad=True)
rich(1231.7, [("西尾善明NSZ2  傾斜N, ", TXT), ("E", R)])

trace_panel(1366.7, 1456.7, [(mcth_te, mcth_ve, R), (mcth_tn, mcth_vn, K)])
scale_label((1366.7 + 1456.7) / 2, rad=True)
rich(1359, [("南知多MCTH  (Hi-net) 傾斜N, ", TXT), ("E", R)])

trace_panel(1495.0, 1583.3, [(okzh_te, okzh_ve, R), (okzh_tn, okzh_vn, K)])
scale_label((1495.0 + 1583.3) / 2, rad=True)
rich(1486.7, [("岡崎OKZH  (Hi-net) 傾斜N, ", TXT), ("E", R)])

# ---------------------------------------------------------------- volumetric strain
trace_panel(1623.3, 1711.7, [(gam_t, gam_v, K)])
scale_label((1623.3 + 1711.7) / 2)
rich(1615, [("蒲郡清田（気象庁） 体積歪", TXT)])

# ---------------------------------------------------------------- tremor counts
ax_l = add_ax(1749.3, 1817.3)
for t, n, c in ((rk3_t, rk3_n, K), (rk4_t, rk4_n, G), (rt0_t, rt0_n, R), (rt1_t, rt1_n, B)):
    ax_l.bar(t, n, width=1 / 24, color=c, lw=0)
ax_l.set_xlim(0, 24)
ax_l.set_ylim(0, 50)
ax_l.spines["top"].set_visible(False)
for sp in ("left", "right", "bottom"):
    ax_l.spines[sp].set_color(K)
ax_l.spines["left"].set_linewidth(1.2)
ax_l.spines["right"].set_linewidth(1.2)
ax_l.spines["bottom"].set_linewidth(1.8)
ax_l.set_yticks([0, 10, 20, 30, 40, 50])
ax_l.set_yticklabels([])
ax_l.tick_params(axis="y", left=True, right=True, direction="out", length=5, width=1.0, color=K)
ax_l.set_xticks(range(25))
ax_l.set_xticklabels([])
ax_l.set_xticks([i + 0.5 for i in range(0, 24, 2)], minor=True)
ax_l.set_xticklabels(day_labels, minor=True)
ax_l.tick_params(axis="x", which="major", bottom=True, direction="out", length=6, width=1.2,
                 color=K)
ax_l.tick_params(axis="x", which="minor", bottom=True, length=0, pad=8, labelsize=NFS,
                 labelcolor=TXT)
ax_l.set_xlabel("2021/05", fontsize=NFS, color=TXT, labelpad=1)
ax_l.grid(False)

ftext(75, 1749.3, "50", ha="right", fontsize=NFS)
ftext(75, 1785, "[/h]", ha="right", fontsize=NFS)
ftext(75, 1817.3, "0", ha="right", fontsize=NFS)
ftext(1222, 1749.3, "50", ha="right", fontsize=NFS)
ftext(1195, 1785, "[/h]", ha="left", fontsize=NFS)
ftext(1222, 1817.3, "0", ha="right", fontsize=NFS)
rich(1743.3, [("深部低周波地震（気象庁） RK3, ", TXT), ("RK4", G), (", ", TXT), ("RT0", R),
              (", ", TXT), ("RT1", B)])

# ---------------------------------------------------------------- highlighted periods
blend = mtransforms.blended_transform_factory(ax_l.transData, fig.transFigure)
y_top = 1 - 33.5 / H
y_bot = 1 - 1855.3 / H
for key, (d0, d1) in periods.items():
    fig.add_artist(Rectangle((d0, y_bot), d1 - d0, y_top - y_bot, transform=blend,
                             facecolor=period_fill[key], edgecolor="none", zorder=-6))
# stations without data in periods B and C
fig.add_artist(Rectangle((12, 1 - 783 / H), 5, (783 - 346) / H, transform=blend,
                         facecolor="#e1e1e1", edgecolor="none", zorder=-5))
for yy in (127.7, 346, 783, 1220, 1475):
    fig.add_artist(Line2D([8.5, 12], [1 - yy / H] * 2, transform=blend, color="#dca3bd",
                          lw=0.8, zorder=-4))
for yy in (127.7, 1220, 1475):
    fig.add_artist(Line2D([12, 17], [1 - yy / H] * 2, transform=blend, color="#c9d3d0",
                          lw=0.8, zorder=-4))
for key, (d0, d1) in periods.items():
    fig.add_artist(Rectangle((d0, y_bot), d1 - d0, y_top - y_bot, transform=blend,
                             facecolor="none", edgecolor=period_edge[key], lw=1.4,
                             linestyle=(0, (4, 2.5)), zorder=-3))
    lab = "[SSE]" if key == "SSE" else f"[{key}]"
    xc = (d0 + d1) / 2 - (0.25 if key == "SSE" else 0)
    fig.text(xc, 1 - 1877 / H, lab, transform=blend, ha="center", va="center",
             fontsize=NFS, color=period_edge[key] if key != "SSE" else "#a3a3a3")

fig.savefig("out.png", dpi=100, facecolor="white")
